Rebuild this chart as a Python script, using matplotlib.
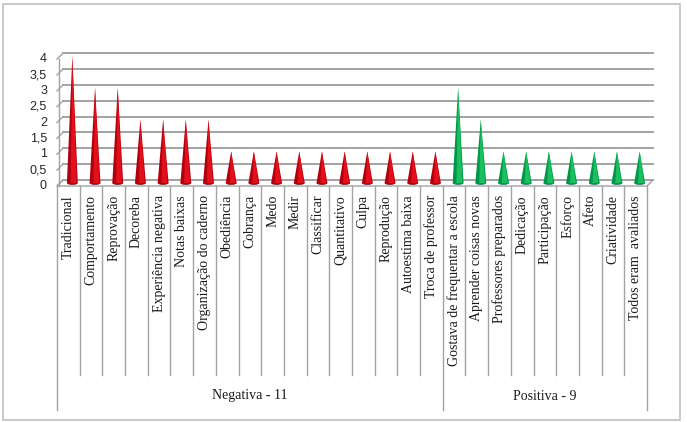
import matplotlib.pyplot as plt
from matplotlib.patches import Polygon, Ellipse, Rectangle
from matplotlib.transforms import ScaledTranslation

# data
categorias_neg = ['Tradicional', 'Comportamento', 'Reprovação', 'Decoreba',
                  'Experiência negativa', 'Notas baixas', 'Organização do caderno',
                  'Obediência', 'Cobrança', 'Medo', 'Medir', 'Classificar',
                  'Quantitativo', 'Culpa', 'Reprodução', 'Autoestima baixa',
                  'Troca de professor']
valores_neg = [4, 3, 3, 2, 2, 2, 2, 1, 1, 1, 1, 1, 1, 1, 1, 1, 1]

categorias_pos = ['Gostava de frequentar a escola', 'Aprender coisas novas',
                  'Professores preparados', 'Dedicação', 'Participação',
                  'Esforço', 'Afeto', 'Criatividade', 'Todos eram  avaliados']
valores_pos = [3, 2, 1, 1, 1, 1, 1, 1, 1]

grupos = ['Negativa - 11', 'Positiva - 9']
yticks = [0, 0.5, 1, 1.5, 2, 2.5, 3, 3.5, 4]
ytick_labels = ['0', '0,5', '1', '1,5', '2', '2,5', '3', '3,5', '4']

W, H = 687, 422
fig = plt.figure(figsize=(W / 100, H / 100), dpi=100)
fig.patch.set_facecolor('white')

# outer chart border
fig.add_artist(Rectangle((3 / W, 2 / H), 677 / W, 416 / H, transform=fig.transFigure,
                         fill=False, edgecolor='#bfbfbf', linewidth=1.2))

ax = fig.add_axes([57 / W, (H - 186) / H, 590 / W, 126.8 / H])
n = len(categorias_neg) + len(categorias_pos)
ax.set_xlim(-0.5, n - 0.5)
ax.set_ylim(0, 4)
ax.axis('off')


def shift(dx, dy):
    return ax.transData + ScaledTranslation(dx / 100, dy / 100, fig.dpi_scale_trans)


back = shift(6, 6)
mid = shift(4, 3)
grid_c = '#a3a3a3'
x0, x1 = -0.5, n - 0.5
inv = ax.transData.inverted()

# back wall gridlines
for y in yticks:
    ax.plot([x0, x1], [y, y], color=grid_c, lw=1.4, transform=back, clip_on=False)

# side wall: front edge and the slanted connectors
ax.plot([x0, x0], [0, 4], color=grid_c, lw=1.0, transform=shift(2, 0), clip_on=False)
for y in yticks:
    fx, fy = inv.transform(ax.transData.transform((x0, y)))
    bx, by = inv.transform(back.transform((x0, y)))
    ax.plot([fx, bx], [fy, by], color=grid_c, lw=1.0, clip_on=False)

# floor
fl = inv.transform(back.transform((x0, 0)))
fr = inv.transform(back.transform((x1, 0)))
ax.add_patch(Polygon([(x0, 0), (x1, 0), tuple(fr), tuple(fl)], closed=True,
                     facecolor='white', edgecolor=grid_c, lw=1.0, clip_on=False))

# cones
hw = 0.24
cores = [('#b0000e', '#e3101c')] * len(valores_neg) + [('#00964a', '#1cbf5e')] * len(valores_pos)
valores = valores_neg + valores_pos
for i, v in enumerate(valores):
    dark, light = cores[i]
    ax.add_patch(Ellipse((i, 0), 2 * hw, 0.12, facecolor=dark, edgecolor='none',
                         transform=mid, clip_on=False, zorder=3))
    ax.add_patch(Polygon([(i - hw, 0), (i + hw, 0), (i, v)], closed=True, facecolor=dark,
                         edgecolor='none', transform=mid, clip_on=False, zorder=3))
    ax.add_patch(Polygon([(i - 0.3 * hw, 0), (i + 0.8 * hw, 0), (i, v)], closed=True,
                         facecolor=light, edgecolor='none', transform=mid, clip_on=False,
                         zorder=3))

# y tick labels
for y, lab in zip(yticks, ytick_labels):
    ax.text(x0, y, lab, ha='right', va='center', fontsize=9, family='Liberation Sans',
            color='#262626', transform=shift(-10, 0))

# category labels
rotulos = categorias_neg + categorias_pos
for i, lab in enumerate(rotulos):
    ax.text(i, 0, lab, rotation=90, ha='center', va='top', fontsize=10,
            family='Liberation Serif', color='#1a1a1a', transform=shift(0, -9))

# category dividers and group boxes
px = 31.7  # pixels per unit on the value axis
sep = len(categorias_neg) - 0.5
for k in range(n + 1):
    xb = k - 0.5
    low = -410 + 186 if xb in (x0, sep, x1) else -375 + 186
    ax.plot([xb, xb], [0, low / px], color=grid_c, lw=1.0, clip_on=False)

centros = [(x0 + sep) / 2, (sep + x1) / 2]
for c, g in zip(centros, grupos):
    ax.text(c, -(396 - 186) / px, g, ha='center', va='center', fontsize=10,
            family='Liberation Serif', color='#1a1a1a')

fig.savefig('out.png', dpi=100, facecolor='white')
